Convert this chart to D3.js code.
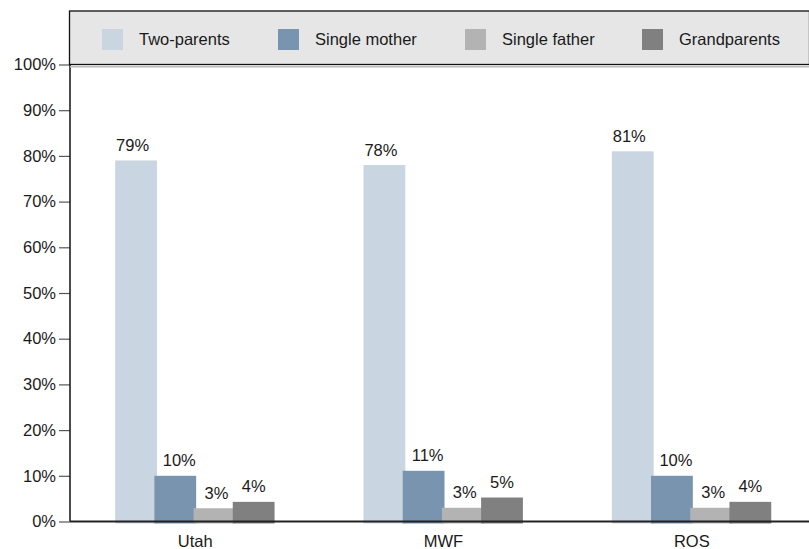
<!DOCTYPE html>
<html><head><meta charset="utf-8">
<script src="https://cdn.jsdelivr.net/npm/d3@7"></script>
<style>
html,body{margin:0;padding:0;background:#fff;}
svg{display:block;font-family:"Liberation Sans",Arial,sans-serif;}
</style></head>
<body><svg id="chart" width="809" height="549"></svg>
<script>
const categories = ["Utah", "MWF", "ROS"];
const seriesNames = ["Two-parents", "Single mother", "Single father", "Grandparents"];
const twoParents = [79, 78, 81];
const singleMother = [10, 11.1, 10];
const singleFather = [2.9, 3.0, 3.0];
const grandparents = [4.3, 5.25, 4.3];
const valueLabels = [["79%", "78%", "81%"], ["10%", "11%", "10%"], ["3%", "3%", "3%"], ["4%", "5%", "4%"]];
const yTicks = [0, 10, 20, 30, 40, 50, 60, 70, 80, 90, 100];
const colors = ["#c9d5e0", "#7894af", "#b3b3b3", "#808080"];

const seriesValues = [twoParents, singleMother, singleFather, grandparents];
const svg = d3.select("#chart");
const fs = 16.5, textColor = "#1a1a1a";

const y = d3.scaleLinear().domain([0, 100]).range([521.5, 64.5]);
const x = d3.scaleBand().domain(categories).range([71, 816]).padding(0);
const barW = 41.8, step = 39.2;
const labelDx = [-3.5, 4, 2, 0];

// bars
const gBars = svg.append("g");
seriesValues.forEach((vals, si) => {
  gBars.selectAll(null).data(categories).enter().append("rect")
    .attr("x", c => x(c) + x.bandwidth() / 2 - 80 + si * step)
    .attr("y", (c, i) => y(vals[i]))
    .attr("width", barW)
    .attr("height", (c, i) => y(0) - y(vals[i]) + 2)
    .attr("fill", colors[si]);
});
// value labels
seriesValues.forEach((vals, si) => {
  gBars.selectAll(null).data(categories).enter().append("text")
    .attr("x", c => x(c) + x.bandwidth() / 2 - 80 + si * step + barW / 2 + labelDx[si])
    .attr("y", (c, i) => y(vals[i]) - 9.5)
    .attr("text-anchor", "middle")
    .attr("font-size", fs).attr("fill", textColor)
    .text((c, i) => valueLabels[si][i]);
});

// y axis
const yAxis = svg.append("g").attr("transform", "translate(70,0)")
  .call(d3.axisLeft(y).tickValues(yTicks).tickSize(11).tickPadding(3).tickFormat(d => d + "%"));
yAxis.select(".domain").remove();
yAxis.selectAll(".tick line").attr("stroke", "#555").attr("stroke-width", 1.2);
yAxis.selectAll(".tick text").attr("font-size", fs).attr("fill", textColor)
  .attr("font-family", "Liberation Sans, Arial, sans-serif");
svg.append("line").attr("x1", 70).attr("x2", 70).attr("y1", 64).attr("y2", y(0))
  .attr("stroke", "#111").attr("stroke-width", 1.5);

// x axis
const xAxis = svg.append("g").attr("transform", `translate(0,${y(0)})`)
  .call(d3.axisBottom(x).tickSize(0).tickPadding(14));
xAxis.select(".domain").remove();
xAxis.selectAll(".tick text").attr("font-size", fs).attr("fill", textColor)
  .attr("font-family", "Liberation Sans, Arial, sans-serif");
svg.append("line").attr("x1", 70).attr("x2", 809).attr("y1", y(0)).attr("y2", y(0))
  .attr("stroke", "#222").attr("stroke-width", 2);

// legend
svg.append("rect").attr("x", 70).attr("y", 66).attr("width", 740).attr("height", 1.5).attr("fill", "#bbb");
svg.append("rect").attr("x", 69.5).attr("y", 11).attr("width", 740).attr("height", 53.5)
  .attr("fill", "#e6e6e6").attr("stroke", "#111").attr("stroke-width", 1.3);
const legendX = [102, 278, 465, 642];
const lg = svg.append("g");
seriesNames.forEach((name, i) => {
  lg.append("rect").attr("x", legendX[i]).attr("y", 29).attr("width", 21).attr("height", 21).attr("fill", colors[i]);
  lg.append("text").attr("x", legendX[i] + 37).attr("y", 44.5).attr("font-size", fs).attr("fill", textColor).text(name);
});
</script></body></html>
